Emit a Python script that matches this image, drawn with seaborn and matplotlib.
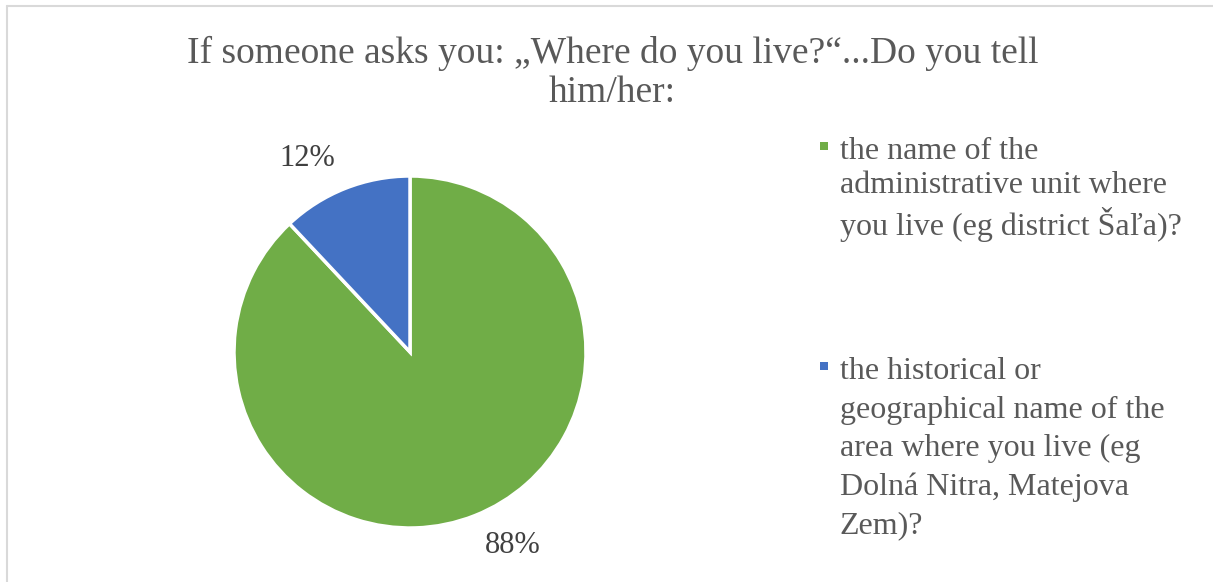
import matplotlib
matplotlib.use("Agg")
import numpy as np
from matplotlib import pyplot as plt
from matplotlib.patches import Rectangle
from matplotlib.legend_handler import HandlerPatch
from matplotlib.lines import Line2D
import seaborn as sns

# data
answers = [
	"the name of the\nadministrative unit where\nyou live (eg district Šaľa)?",
	"the historical or\ngeographical name of the\narea where you live (eg\nDolná Nitra, Matejova\nZem)?",
]
shares = [88, 12]
colors = ["#70AD47", "#4472C4"]
title = "If someone asks you: „Where do you live?“...Do you tell\nhim/her:"

sns.set_theme(style="white")
plt.rcParams['font.family'] = ['Liberation Serif', 'DejaVu Serif']

TEXT = "#595959"

fig = plt.figure(figsize=(12.13, 5.82), dpi=100)
ax = fig.add_axes([234 / 1213, 54 / 582, 352 / 1213, 352 / 582])

wedges, texts, autotexts = ax.pie(
	shares,
	colors=colors,
	startangle=90,
	counterclock=False,
	autopct='%1.0f%%',
	pctdistance=1.24,
	wedgeprops=dict(edgecolor='white', linewidth=2.5),
	textprops=dict(fontsize=22, color='#404040'),
)
ax.set_xlim(-1, 1)
ax.set_ylim(-1, 1)
ax.set_aspect('equal')
ax.axis('off')

# percent labels sit a little counterclockwise of the wedge middle (best fit)
for w, t in zip(wedges, autotexts):
	ang = np.deg2rad((w.theta1 + w.theta2) / 2 + 6.5)
	t.set_position((1.245 * np.cos(ang), 1.245 * np.sin(ang)))


# square marker aligned with the first line of a multi-line label
class FirstLineSquare(HandlerPatch):
	def __init__(self, shift_px, **kw):
		super().__init__(**kw)
		self.shift = shift_px * 0.72  # px -> pt

	def create_artists(self, legend, orig_handle, xdescent, ydescent,
					   width, height, fontsize, trans):
		size = 0.25 * fontsize
		p = Rectangle(
			(-xdescent + width - size, -ydescent + (height - size) / 2 + self.shift),
			size, size,
			facecolor=orig_handle.get_facecolor(),
			edgecolor='none',
			transform=trans,
		)
		return [p]


leg = fig.legend(
	wedges,
	answers,
	loc='upper left',
	bbox_to_anchor=(791 / 1213, 1 - 108 / 582),
	frameon=False,
	fontsize=23,
	labelcolor=TEXT,
	handlelength=0.25,
	handletextpad=0.375,
	labelspacing=3.6,
	handler_map={
		wedges[0]: FirstLineSquare(43),
		wedges[1]: FirstLineSquare(82),
	},
)
leg.get_texts()[0].set_linespacing(1.25)
leg.get_texts()[1].set_linespacing(1.42)

fig.suptitle(title, x=0.505, y=1 - 36 / 582, va='top', fontsize=27, color=TEXT, linespacing=1.17)

# light frame on top and left edges
fig.add_artist(Line2D([7 / 1213, 1], [1 - 6 / 582, 1 - 6 / 582], transform=fig.transFigure, color='#d9d9d9', linewidth=1.5))
fig.add_artist(Line2D([7 / 1213, 7 / 1213], [0, 1 - 6 / 582], transform=fig.transFigure, color='#d9d9d9', linewidth=1.5))

fig.savefig('out.png', dpi=100, facecolor='white')
